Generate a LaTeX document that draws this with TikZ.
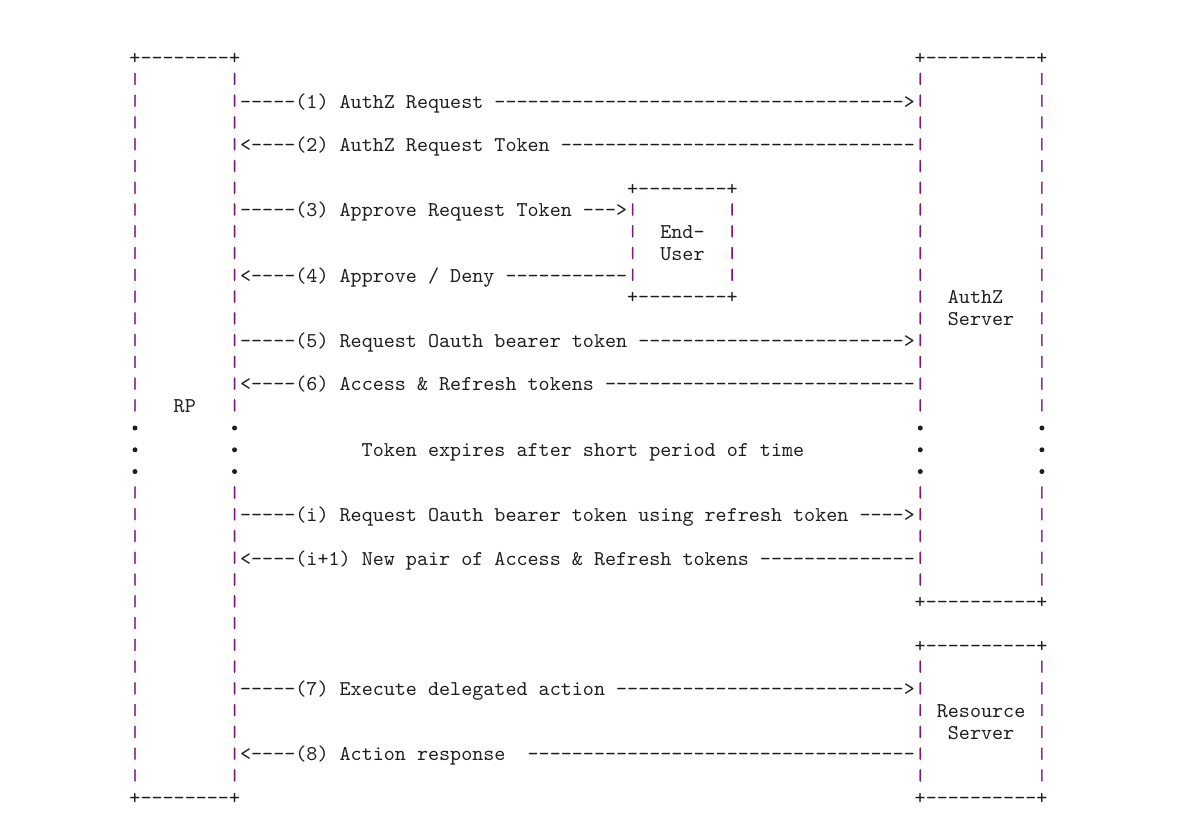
\documentclass[tikz,border=0pt]{standalone}
\usepackage{fontspec}
\newfontfamily\asciifont{lmmono10-regular.otf}
\newfontfamily\barfont{lmmono10-regular.otf}[FakeBold=2.5]

\definecolor{frame}{HTML}{7A1A7A}
\definecolor{ink}{HTML}{1E1E1E}

% character grid: column c starts at 129.47+11.06c, row r has its baseline at 64.5+21.765r
\newcommand\colx[1]{129.47+11.06*(#1)}
\newcommand\rowy[1]{64.5+21.765*(#1)}
% centre of a cell, for the box sides
\newcommand\midx[1]{135+11.06*(#1)}
\newcommand\bary[1]{61.9+21.765*(#1)}
% one dash at a time, so that no ligature joins them
\newcommand\dashes[1]{\foreach \k in {1,...,#1}{-\kern0pt}}

\tikzset{
  ascii/.style={font={\asciifont\fontsize{21.07pt}{21.07pt}\selectfont}, text=ink,
    inner sep=0pt, outer sep=0pt, anchor=base west},
  bar/.style={font={\barfont\fontsize{15.5pt}{15.5pt}\selectfont}, text=frame,
    inner sep=0pt, outer sep=0pt, anchor=base},
  dot/.style={circle, fill=ink, inner sep=0pt, minimum size=5pt},
}

\begin{document}
\begin{tikzpicture}[x=1pt,y=-1pt]
  \useasboundingbox (0,0) rectangle (1188,817);

  % box corners
  \node[ascii] (rptop) at ({\colx{0}},{\rowy{0}}) {+\dashes{8}+};
  \node[ascii] (rpbot) at ({\colx{0}},{\rowy{34}}) {+\dashes{8}+};
  \node[ascii] (aztop) at ({\colx{71}},{\rowy{0}}) {+\dashes{10}+};
  \node[ascii] (azbot) at ({\colx{71}},{\rowy{25}}) {+\dashes{10}+};
  \node[ascii] (rstop) at ({\colx{71}},{\rowy{27}}) {+\dashes{10}+};
  \node[ascii] (rsbot) at ({\colx{71}},{\rowy{34}}) {+\dashes{10}+};
  \node[ascii] (eutop) at ({\colx{45}},{\rowy{6}}) {+\dashes{8}+};
  \node[ascii] (eubot) at ({\colx{45}},{\rowy{11}}) {+\dashes{8}+};

  % box sides
  \foreach \r in {1,...,16} {
    \node[bar] (rpl\r) at ({\midx{0}},{\bary{\r}}) {|};
    \node[bar] (rpr\r) at ({\midx{9}},{\bary{\r}}) {|};
    \node[bar] (azl\r) at ({\midx{71}},{\bary{\r}}) {|};
    \node[bar] (azr\r) at ({\midx{82}},{\bary{\r}}) {|};
  }
  \foreach \r in {20,...,33} {
    \node[bar] (rpl\r) at ({\midx{0}},{\bary{\r}}) {|};
    \node[bar] (rpr\r) at ({\midx{9}},{\bary{\r}}) {|};
  }
  \foreach \r in {20,...,24} {
    \node[bar] (azl\r) at ({\midx{71}},{\bary{\r}}) {|};
    \node[bar] (azr\r) at ({\midx{82}},{\bary{\r}}) {|};
  }
  \foreach \r in {28,...,33} {
    \node[bar] (rsl\r) at ({\midx{71}},{\bary{\r}}) {|};
    \node[bar] (rsr\r) at ({\midx{82}},{\bary{\r}}) {|};
  }
  \foreach \r in {7,...,10} {
    \node[bar] (eul\r) at ({\midx{45}},{\bary{\r}}) {|};
    \node[bar] (eur\r) at ({\midx{54}},{\bary{\r}}) {|};
  }

  % dotted gap
  \foreach \c in {0,9,71,82}
    \foreach \r in {17,18,19}
      \node[dot] (dot\c-\r) at ({\midx{\c}},{58+21.765*\r}) {};

  % box labels
  \node[ascii] (rp) at ({\colx{4}},{\rowy{16}}) {RP};
  \node[ascii] (authz) at ({\colx{74}},{\rowy{11}}) {AuthZ};
  \node[ascii] (authzb) at ({\colx{74}},{\rowy{12}}) {Server};
  \node[ascii] (enduser) at ({\colx{48}},{\rowy{8}}) {End-};
  \node[ascii] (enduserb) at ({\colx{48}},{\rowy{9}}) {User};
  \node[ascii] (rs) at ({\colx{73}},{\rowy{30}}) {Resource};
  \node[ascii] (rsb) at ({\colx{74}},{\rowy{31}}) {Server};
  \node[ascii] (expiry) at ({\colx{21}},{\rowy{18}}) {Token expires after short period of time};

  % messages
  \node[ascii] (m1) at ({\colx{10}},{\rowy{2}}) {\dashes{5}(1) AuthZ Request \dashes{37}>};
  \node[ascii] (m2) at ({\colx{10}},{\rowy{4}}) {<\dashes{4}(2) AuthZ Request Token \dashes{32}};
  \node[ascii] (m3) at ({\colx{10}},{\rowy{7}}) {\dashes{5}(3) Approve Request Token \dashes{3}>};
  \node[ascii] (m4) at ({\colx{10}},{\rowy{10}}) {<\dashes{4}(4) Approve / Deny \dashes{11}};
  \node[ascii] (m5) at ({\colx{10}},{\rowy{13}}) {\dashes{5}(5) Request Oauth bearer token \dashes{24}>};
  \node[ascii] (m6) at ({\colx{10}},{\rowy{15}}) {<\dashes{4}(6) Access \& Refresh tokens \dashes{28}};
  \node[ascii] (mi) at ({\colx{10}},{\rowy{21}}) {\dashes{5}(i) Request Oauth bearer token using refresh token \dashes{4}>};
  \node[ascii] (mj) at ({\colx{10}},{\rowy{23}}) {<\dashes{4}(i+1) New pair of Access \& Refresh tokens \dashes{14}};
  \node[ascii] (m7) at ({\colx{10}},{\rowy{29}}) {\dashes{5}(7) Execute delegated action \dashes{26}>};
  \node[ascii] (m8) at ({\colx{10}},{\rowy{32}}) {<\dashes{4}(8) Action response\ \ \dashes{35}};
\end{tikzpicture}
\end{document}
